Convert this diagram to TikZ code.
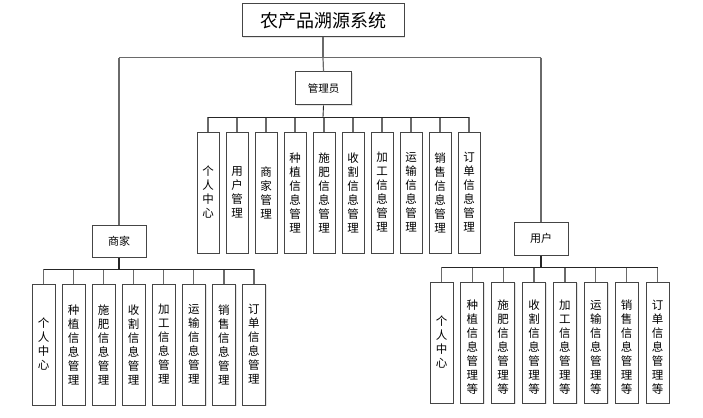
\documentclass[tikz,border=0pt]{standalone}
\usepackage{fontspec}
\setmainfont{Noto Sans CJK SC}
\usetikzlibrary{shadows}
\definecolor{linegray}{HTML}{6A6A6A}
\definecolor{boxline}{HTML}{454545}
\tikzset{
  boxstyle/.style={draw=boxline, line width=1pt, fill=white, inner sep=0pt,
    drop shadow={shadow xshift=1.2pt, shadow yshift=-1.2pt, opacity=0.2}},
  topbox/.style={boxstyle, minimum width=162pt, minimum height=33pt, font={\fontsize{18}{20}\selectfont}},
  midbox/.style={boxstyle, minimum width=56pt, minimum height=33pt, font={\fontsize{10.5}{12}\selectfont}},
  leafbox/.style={boxstyle, minimum width=22pt, minimum height=121pt},
  leaftext/.style={align=center, inner sep=0pt, font={\fontsize{11.5}{14}\selectfont}},
  conn/.style={draw=linegray, line width=1.2pt},
  bus/.style={draw=black!85, line width=0.9pt},
}
\begin{document}
\begin{tikzpicture}[x=1pt,y=-1pt]
\useasboundingbox (0,0) rectangle (703,417);
\fill[white] (0,0) rectangle (703,417);

% top
\node[topbox] (root) at (323,20.5) {农产品溯源系统};
\node[midbox] (admin) at (323.5,88.5) {管理员};
\node[midbox, minimum width=54pt, minimum height=32pt, font={\fontsize{11}{12}\selectfont}] (shang) at (119,241) {商家};
\node[midbox, minimum width=54pt, font={\fontsize{11}{12}\selectfont}] (user) at (541,238.5) {用户};

\coordinate (hj) at (323,57.7);
\coordinate (hl) at (119,57.7);
\coordinate (hr) at (541,57.7);
\draw[conn] (root.south) -- (hj);
\draw[conn] (hl) -- (hr);
\draw[conn] (hl) -- (shang.north);
\draw[conn] (hr) -- (user.north);
\draw[conn] (hj) -- (admin.north);

% admin children
\coordinate (abus) at (323,117);
\draw[bus] (admin.south) -- (abus);
\foreach \t [count=\i from 0] in {{个\\人\\中\\心},{用\\户\\管\\理},{商\\家\\管\\理},{种\\植\\信\\息\\管\\理},{施\\肥\\信\\息\\管\\理},{收\\割\\信\\息\\管\\理},{加\\工\\信\\息\\管\\理},{运\\输\\信\\息\\管\\理},{销\\售\\信\\息\\管\\理},{订\\单\\信\\息\\管\\理}}{
  \node[leafbox] (a\i) at ({208+29*\i},192.5) {};
  \node[leaftext] (at\i) at (a\i.center) {\t};
  \coordinate (ab\i) at ({208+29*\i},117);
  \draw[conn] (ab\i) -- (a\i.north);
}
\draw[bus] (ab0) -- (ab9);

% merchant children
\draw[bus, line width=1.6pt] (shang.south) -- (119,269);
\foreach \t [count=\i from 0] in {{个\\人\\中\\心},{种\\植\\信\\息\\管\\理},{施\\肥\\信\\息\\管\\理},{收\\割\\信\\息\\管\\理},{加\\工\\信\\息\\管\\理},{运\\输\\信\\息\\管\\理},{销\\售\\信\\息\\管\\理},{订\\单\\信\\息\\管\\理}}{
  \node[leafbox, minimum width=23pt] (m\i) at ({43.5+30.07*\i},344.5) {};
  \node[leaftext] (mt\i) at (m\i.center) {\t};
  \coordinate (mb\i) at ({43.5+30.07*\i},269);
  \draw[conn] (mb\i) -- (m\i.north);
}
\draw[bus] (mb0) -- (mb7);

% user children
\draw[bus, line width=1.6pt] (user.south) -- (541,267);
\foreach \t [count=\i from 0] in {{种\\植\\信\\息\\管\\理\\等},{施\\肥\\信\\息\\管\\理\\等},{收\\割\\信\\息\\管\\理\\等},{加\\工\\信\\息\\管\\理\\等},{运\\输\\信\\息\\管\\理\\等},{销\\售\\信\\息\\管\\理\\等},{订\\单\\信\\息\\管\\理\\等}}{
  \pgfmathtruncatemacro{\j}{\i+1}
  \node[leafbox, minimum width=23pt] (u\j) at ({441.5+30.86*\j},342.5) {};
  \node[leaftext] (ut\j) at ([yshift=-5pt]u\j.center) {\t};
  \coordinate (ub\j) at ({441.5+30.86*\j},267);
  \draw[conn] (ub\j) -- (u\j.north);
}
\node[leafbox, minimum width=23pt] (u0) at (441.5,342.5) {};
\node[leaftext] (ut0) at (u0.center) {个\\人\\中\\心};
\coordinate (ub0) at (441.5,267);
\draw[conn] (ub0) -- (u0.north);
\draw[bus] (ub0) -- (ub7);
\end{tikzpicture}
\end{document}
